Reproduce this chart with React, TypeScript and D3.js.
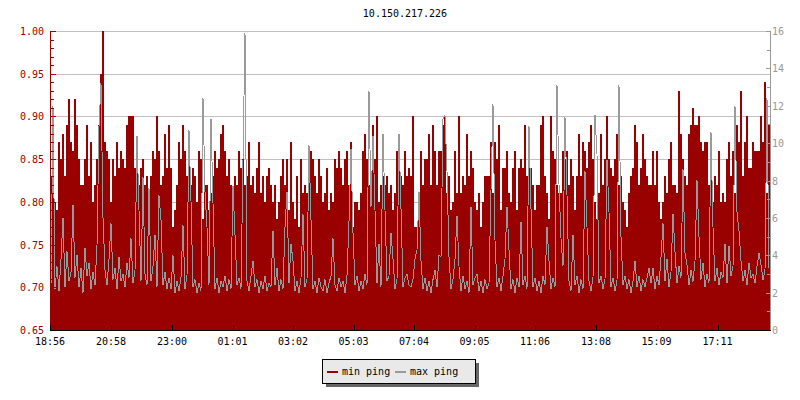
import React from "react";
import * as d3 from "d3";

const chartTitle = "10.150.217.226";
const seriesNames = ["min ping", "max ping"];

// x tick labels as [dayOffset, hour, minute]
const xTickTimes: [number, number, number][] = [
  [0, 18, 56], [0, 20, 58], [0, 23, 0], [1, 1, 1], [1, 3, 2], [1, 5, 3],
  [1, 7, 4], [1, 9, 5], [1, 11, 6], [1, 13, 8], [1, 15, 9], [1, 17, 11],
];
const leftTicks = [0.65, 0.7, 0.75, 0.8, 0.85, 0.9, 0.95, 1.0];
const rightTicks = [0, 2, 4, 6, 8, 10, 12, 14, 16];

// one sample every 4 minutes, 18:56 -> 18:56 next day
const sampleMinutes = 4;

// min ping (ms), left axis
const minPing = [
  0.83,0.81,0.80,0.79,0.87,0.85,0.88,0.83,0.89,0.92,
  0.87,0.86,0.92,0.89,0.85,0.82,0.82,0.85,0.89,0.83,
  0.87,0.80,0.82,0.85,0.89,0.95,1.00,0.87,0.86,0.85,
  0.80,0.85,0.83,0.87,0.84,0.86,0.85,0.84,0.89,0.90,
  0.90,0.90,0.84,0.87,0.82,0.84,0.85,0.82,0.83,0.81,
  0.83,0.86,0.85,0.90,0.86,0.82,0.83,0.88,0.84,0.89,

  0.84,0.77,0.79,0.82,0.87,0.85,0.89,0.86,0.83,0.88,
  0.82,0.84,0.83,0.80,0.86,0.85,0.78,0.82,0.82,0.79,
  0.81,0.83,0.86,0.84,0.85,0.88,0.89,0.86,0.83,0.85,
  0.82,0.80,0.83,0.82,0.86,0.84,0.85,0.82,0.83,0.87,
  0.82,0.83,0.81,0.84,0.87,0.81,0.83,0.80,0.83,0.84,
  0.82,0.80,0.82,0.78,0.80,0.83,0.85,0.82,0.85,0.79,

  0.87,0.80,0.78,0.83,0.77,0.85,0.81,0.82,0.81,0.86,
  0.86,0.85,0.83,0.81,0.85,0.83,0.80,0.81,0.84,0.79,
  0.81,0.80,0.85,0.84,0.86,0.84,0.82,0.85,0.86,0.82,
  0.87,0.77,0.80,0.80,0.79,0.81,0.86,0.88,0.85,0.82,
  0.82,0.89,0.85,0.90,0.80,0.82,0.83,0.82,0.83,0.81,
  0.82,0.79,0.81,0.86,0.84,0.83,0.82,0.86,0.83,0.84,

  0.83,0.90,0.77,0.77,0.81,0.86,0.82,0.85,0.85,0.88,
  0.82,0.89,0.86,0.82,0.86,0.86,0.89,0.90,0.81,0.83,
  0.79,0.80,0.86,0.81,0.90,0.81,0.83,0.82,0.88,0.83,
  0.86,0.84,0.80,0.79,0.81,0.77,0.80,0.83,0.83,0.83,
  0.87,0.81,0.87,0.85,0.89,0.79,0.84,0.84,0.86,0.81,
  0.80,0.84,0.86,0.79,0.84,0.85,0.84,0.89,0.83,0.84,

  0.84,0.82,0.79,0.82,0.82,0.89,0.90,0.83,0.81,0.78,
  0.90,0.86,0.85,0.82,0.81,0.81,0.86,0.85,0.86,0.82,
  0.85,0.83,0.79,0.83,0.88,0.83,0.87,0.86,0.84,0.87,
  0.89,0.85,0.80,0.78,0.81,0.88,0.82,0.85,0.90,0.85,
  0.84,0.83,0.85,0.88,0.82,0.83,0.80,0.79,0.77,0.81,
  0.83,0.84,0.89,0.87,0.82,0.84,0.88,0.85,0.83,0.82,

  0.82,0.86,0.82,0.86,0.80,0.78,0.80,0.83,0.81,0.85,
  0.87,0.82,0.82,0.81,0.93,0.88,0.85,0.83,0.82,0.88,
  0.89,0.91,0.89,0.89,0.90,0.87,0.86,0.87,0.87,0.82,
  0.87,0.80,0.83,0.82,0.86,0.80,0.81,0.80,0.85,0.87,
  0.83,0.86,0.81,0.89,0.87,0.93,0.83,0.87,0.90,0.84,
  0.84,0.87,0.86,0.86,0.86,0.90,0.87,0.94,0.81,0.89,
];

// max ping (ms), right axis
const maxPing = [
  2.4,12.0,2.2,3.4,2.1,3.8,6.0,2.3,4.2,2.6,
  3.1,6.7,2.8,4.0,2.3,3.3,2.0,4.4,2.9,3.6,
  2.2,3.1,2.4,4.5,10.9,13.2,6.0,3.2,2.4,3.8,
  5.7,2.7,3.3,2.2,3.9,2.6,3.0,2.3,3.6,2.8,
  4.9,2.5,3.2,10.4,6.4,2.6,8.2,3.0,2.4,7.6,
  2.6,3.4,5.1,2.3,7.2,5.9,2.4,3.1,2.2,2.8,

  2.2,4.0,2.0,2.6,2.1,2.8,5.6,2.2,2.9,10.7,
  6.9,2.3,2.7,2.0,2.5,2.1,12.4,7.4,5.5,2.4,
  11.3,6.8,2.2,2.8,2.0,2.6,2.3,2.9,2.1,2.7,
  2.2,7.7,5.1,2.4,2.8,2.2,9.1,15.9,2.6,2.1,
  2.9,3.7,2.3,2.7,2.0,2.6,2.2,2.9,2.1,2.5,
  2.3,5.3,2.4,3.3,2.1,2.7,2.2,5.5,7.4,2.5,

  4.6,3.7,2.1,2.6,2.0,2.8,6.2,2.3,2.7,9.9,
  5.9,2.2,2.6,2.0,2.8,2.3,2.1,2.7,2.0,2.5,
  2.9,4.9,2.4,2.1,2.8,2.3,2.6,2.0,2.9,5.8,
  9.7,5.2,2.4,2.9,2.1,2.6,2.2,3.0,2.4,12.8,
  6.6,10.4,6.4,2.5,4.6,2.3,10.5,6.4,2.6,2.9,
  5.2,3.8,2.2,2.7,10.5,6.5,2.3,2.8,3.0,2.4,

  2.3,2.7,3.8,4.3,7.4,3.7,2.2,2.8,2.1,2.6,
  2.0,2.7,3.2,2.3,4.0,3.9,11.3,11.5,8.5,3.9,
  2.2,2.7,3.8,6.1,3.4,2.1,2.9,2.2,2.6,2.0,
  6.6,2.4,2.8,3.0,2.1,2.6,2.0,2.7,2.2,2.5,
  7.5,12.1,4.8,2.3,2.8,2.1,2.9,3.8,6.6,4.3,
  2.2,2.7,2.0,2.8,2.3,5.8,2.4,2.9,2.2,10.9,

  6.5,2.3,2.8,2.1,2.6,2.0,2.9,2.4,5.5,3.7,
  2.2,2.8,2.3,13.1,7.8,4.9,3.4,11.4,7.2,2.6,
  2.1,5.1,2.4,2.9,2.0,2.7,2.2,8.5,5.5,2.6,
  2.1,2.8,11.5,9.4,2.5,2.9,2.2,2.7,9.1,6.3,
  2.3,2.8,2.1,2.6,13.1,5.0,2.4,2.9,2.2,2.7,
  2.0,2.6,3.7,2.3,2.9,2.1,2.7,2.3,2.8,3.3,

  2.5,3.3,2.2,2.9,2.4,3.9,5.7,2.6,3.8,2.3,
  3.1,6.2,4.2,2.5,3.4,2.8,8.6,4.1,3.5,2.4,
  3.2,2.6,3.7,8.0,5.0,2.7,3.6,2.3,3.0,2.5,
  10.6,5.5,2.6,3.3,2.4,3.1,2.8,4.6,2.5,4.5,
  2.9,3.4,12.0,6.3,5.3,3.7,2.6,3.2,2.4,3.6,
  2.8,3.0,2.5,3.4,4.1,3.5,2.7,3.2,12.4,3.3,
];

const RED = "#990000";
const GREY = "#999999";
const FONT = "DejaVu Sans Mono";

export default function App() {
  const W = 800, H = 400;
  const L = 50, R = 770, T = 31, B = 330;
  const start = new Date(2000, 0, 1, 18, 56);
  const end = new Date(2000, 0, 2, 18, 56);
  const tAt = (min: number) => new Date(start.getTime() + min * 60000);

  const x = d3.scaleTime().domain([start, end]).range([L, R]);
  const yL = d3.scaleLinear().domain([0.65, 1.0]).range([B, T]);
  const yR = d3.scaleLinear().domain([0, 16]).range([B, T]);

  const redPts = minPing.map((v, i) => ({ t: tAt(i * sampleMinutes), v }));
  redPts.push({ t: end, v: minPing[minPing.length - 1] });
  const area = d3
    .area<{ t: Date; v: number }>()
    .x((d) => x(d.t))
    .y0(yL(0.65))
    .y1((d) => yL(d.v))
    .curve(d3.curveStepAfter);

  const greyPts = maxPing.map((v, i) => ({ t: tAt(i * sampleMinutes + sampleMinutes / 2), v }));
  const line = d3
    .line<{ t: Date; v: number }>()
    .x((d) => x(d.t))
    .y((d) => yR(d.v));

  const xTicks = xTickTimes.map(([d, h, m]) => new Date(2000, 0, 1 + d, h, m));
  const fmt = d3.timeFormat("%H:%M");
  const leftMinor = d3.range(0, 36).map((i) => 0.65 + i * 0.01);
  const rightMinor = d3.range(0, 17);

  return (
    <svg
      width={W}
      height={H}
      style={{ position: "absolute", left: 0, top: 0, background: "#fff" }}
      fontFamily={FONT}
      fontSize={10}
    >
      <rect x={0} y={0} width={W} height={H} fill="#fff" />
      <text x={405} y={17} textAnchor="middle" fill="#000">{chartTitle}</text>

      {/* grid */}
      {leftTicks.slice(1).map((v) => (
        <line key={"g" + v} x1={L} x2={R} y1={Math.round(yL(v)) + 0.5} y2={Math.round(yL(v)) + 0.5} stroke="#c0c0c0" strokeWidth={1} />
      ))}

      {/* data */}
      <path d={area(redPts) || ""} fill={RED} shapeRendering="crispEdges" />
      <path d={line(greyPts) || ""} fill="none" stroke={GREY} strokeWidth={1} shapeRendering="crispEdges" />

      {/* left axis */}
      <line x1={L + 0.5} x2={L + 0.5} y1={T} y2={B} stroke={RED} />
      {leftMinor.map((v, i) => (
        <line key={"lm" + i} x1={L} x2={L + (i % 5 === 0 ? 6 : 4)} y1={Math.round(yL(v)) + 0.5} y2={Math.round(yL(v)) + 0.5} stroke={RED} />
      ))}
      {leftTicks.map((v) => (
        <text key={"lt" + v} x={44} y={yL(v) + 4} textAnchor="end" fill={RED}>{v.toFixed(2)}</text>
      ))}

      {/* right axis */}
      <line x1={R + 0.5} x2={R + 0.5} y1={T} y2={B} stroke={GREY} />
      {rightMinor.map((v) => (
        <line key={"rm" + v} x1={R - (v % 2 === 0 ? 4 : 3)} x2={R} y1={Math.round(yR(v)) + 0.5} y2={Math.round(yR(v)) + 0.5} stroke={GREY} />
      ))}
      {rightTicks.map((v) => (
        <text key={"rt" + v} x={772} y={yR(v) + 4} textAnchor="start" fill={GREY}>{v}</text>
      ))}

      {/* bottom axis */}
      <line x1={L} x2={R + 1} y1={B + 0.5} y2={B + 0.5} stroke="#000" />
      {xTicks.map((t, i) => (
        <g key={"xt" + i}>
          <line x1={Math.round(x(t)) + 0.5} x2={Math.round(x(t)) + 0.5} y1={B - 5} y2={B} stroke="#000" />
          <text x={x(t)} y={345} textAnchor="middle" fill="#000">{fmt(t)}</text>
        </g>
      ))}

      {/* legend */}
      <rect x={326} y={363} width={153} height={24} fill="#666" />
      <rect x={322.5} y={359.5} width={153} height={24} fill="#e9e9e9" stroke="#000" />
      <rect x={327} y={371} width={11} height={2} fill={RED} />
      <text x={342} y={375} fill="#000">{seriesNames[0]}</text>
      <rect x={395} y={371} width={11} height={2} fill={GREY} />
      <text x={410} y={375} fill="#000">{seriesNames[1]}</text>
    </svg>
  );
}
